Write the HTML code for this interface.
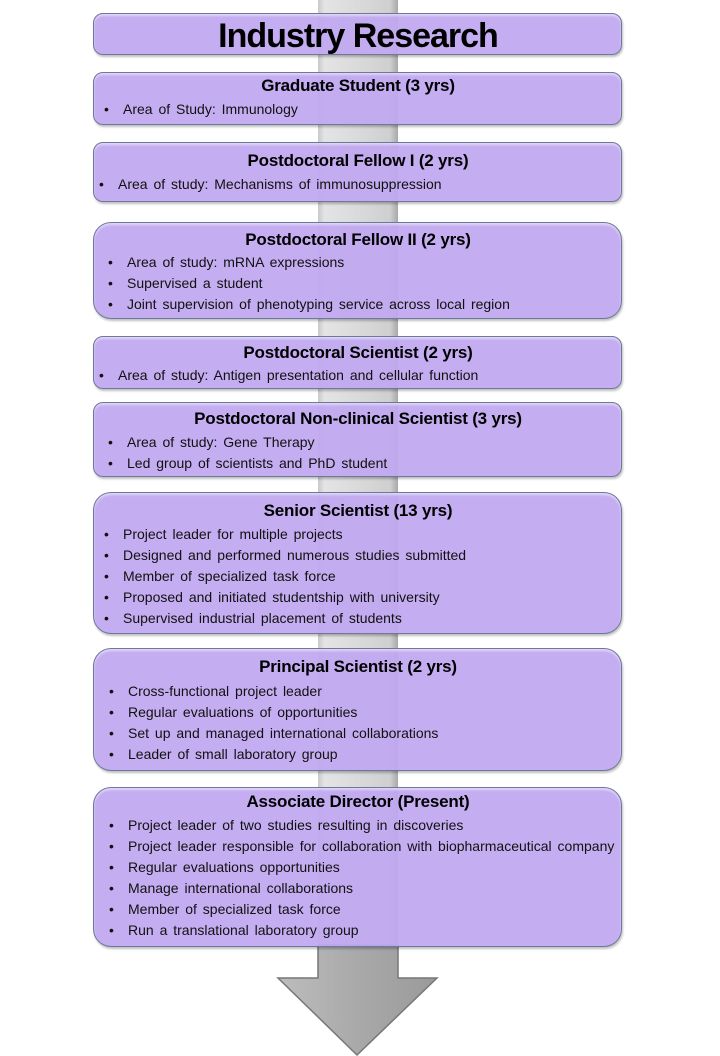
<!DOCTYPE html>
<html><head><meta charset="utf-8"><style>
body{margin:0;width:720px;height:1056px;background:#fff;position:relative;overflow:hidden;font-family:"Liberation Sans",Arial,sans-serif;}
.shaft{position:absolute;left:318px;top:0;width:80px;height:980px;background:linear-gradient(90deg,#c8c8c8 0,#e4e4e4 8%,#dadada 50%,#cfcfcf 90%,#a8a8a8 100%);}
.box{position:absolute;left:93px;width:527px;background:rgba(192,168,240,0.94);border:1.5px solid #6b7a9a;border-radius:10px;box-shadow:1px 2px 2px rgba(0,0,0,0.25), inset 0 2px 2px rgba(255,255,255,0.5);}
.big{border-radius:18px;}
.h{position:absolute;left:93px;width:530px;text-align:center;font-weight:bold;font-size:17px;line-height:20px;letter-spacing:-0.2px;color:#000;}
.t{position:absolute;font-size:14px;line-height:20px;letter-spacing:0;word-spacing:2px;color:#111;white-space:nowrap;}
.t::before{content:"•";position:absolute;left:-19px;}
</style></head><body>
<div class="shaft"></div>
<svg style="position:absolute;left:0;top:0" width="720" height="1056">
<defs><linearGradient id="g" x1="0" x2="1"><stop offset="0" stop-color="#bdbdbd"/><stop offset="0.5" stop-color="#a9a9a9"/><stop offset="1" stop-color="#9a9a9a"/></linearGradient></defs>
<rect x="318" y="945" width="80" height="40" fill="url(#g)"/>
<polygon points="278,978 318,978 318,945 398,945 398,978 437,978 357,1055" fill="url(#g)" stroke="#777" stroke-width="1.5"/>
</svg>
<div class="box" style="top:13px;height:40px"></div>
<div class="h" style="top:16px;font-size:34px;line-height:40px;letter-spacing:-1px">Industry Research</div>

<div class="box" style="top:72px;height:51px"></div>
<div class="h" style="top:76px">Graduate Student (3 yrs)</div>
<div class="t" style="left:123px;top:99px">Area of Study: Immunology</div>

<div class="box" style="top:142px;height:58px"></div>
<div class="h" style="top:151px">Postdoctoral Fellow I (2 yrs)</div>
<div class="t" style="left:118px;top:174px">Area of study: Mechanisms of immunosuppression</div>

<div class="box big" style="top:222px;height:95px"></div>
<div class="h" style="top:230px">Postdoctoral Fellow II (2 yrs)</div>
<div class="t" style="left:127px;top:252px">Area of study: mRNA expressions</div>
<div class="t" style="left:127px;top:273px">Supervised a student</div>
<div class="t" style="left:127px;top:294px">Joint supervision of phenotyping service across local region</div>

<div class="box" style="top:336px;height:51px"></div>
<div class="h" style="top:343px">Postdoctoral Scientist (2 yrs)</div>
<div class="t" style="left:118px;top:365px">Area of study: Antigen presentation and cellular function</div>

<div class="box" style="top:402px;height:73px"></div>
<div class="h" style="top:409px">Postdoctoral Non-clinical Scientist (3 yrs)</div>
<div class="t" style="left:127px;top:432px">Area of study: Gene Therapy</div>
<div class="t" style="left:127px;top:453px">Led group of scientists and PhD student</div>

<div class="box big" style="top:492px;height:140px"></div>
<div class="h" style="top:501px">Senior Scientist (13 yrs)</div>
<div class="t" style="left:123px;top:524px">Project leader for multiple projects</div>
<div class="t" style="left:123px;top:545px">Designed and performed numerous studies submitted</div>
<div class="t" style="left:123px;top:566px">Member of specialized task force</div>
<div class="t" style="left:123px;top:587px">Proposed and initiated studentship with university</div>
<div class="t" style="left:123px;top:608px">Supervised industrial placement of students</div>

<div class="box big" style="top:648px;height:121px"></div>
<div class="h" style="top:657px">Principal Scientist (2 yrs)</div>
<div class="t" style="left:128px;top:681px">Cross-functional project leader</div>
<div class="t" style="left:128px;top:702px">Regular evaluations of opportunities</div>
<div class="t" style="left:128px;top:723px">Set up and managed international collaborations</div>
<div class="t" style="left:128px;top:744px">Leader of small laboratory group</div>

<div class="box big" style="top:787px;height:158px"></div>
<div class="h" style="top:792px">Associate Director (Present)</div>
<div class="t" style="left:128px;top:815px">Project leader of two studies resulting in discoveries</div>
<div class="t" style="left:128px;top:836px">Project leader responsible for collaboration with biopharmaceutical company</div>
<div class="t" style="left:128px;top:857px">Regular evaluations opportunities</div>
<div class="t" style="left:128px;top:878px">Manage international collaborations</div>
<div class="t" style="left:128px;top:899px">Member of specialized task force</div>
<div class="t" style="left:128px;top:920px">Run a translational laboratory group</div>
</body></html>
